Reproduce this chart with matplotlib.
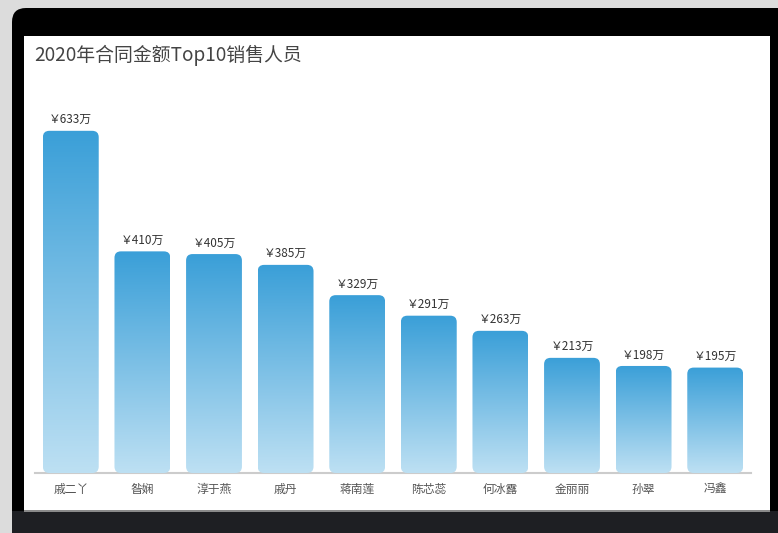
import matplotlib

matplotlib.use("Agg")

import matplotlib.pyplot as plt
import numpy as np
from matplotlib.patches import FancyBboxPatch, Rectangle

plt.rcParams["font.family"] = ["Noto Sans CJK SC", "DejaVu Sans"]

# data
names = ["戚二丫", "昝娴", "淳于燕", "戚丹", "蒋南莲", "陈芯蕊", "何冰露", "金丽丽", "孙翠", "冯鑫"]
amounts = [633, 410, 405, 385, 329, 291, 263, 213, 198, 195]
title = "2020年合同金额Top10销售人员"

W, H = 778, 533
fig = plt.figure(figsize=(W / 100, H / 100), dpi=100)
fig.patch.set_facecolor("#dcdcdc")


def px_rect(x0, y0, x1, y1, **kw):
    # rectangle in pixel coords (origin top-left)
    return Rectangle((x0 / W, 1 - y1 / H), (x1 - x0) / W, (y1 - y0) / H,
                     transform=fig.transFigure, zorder=-10, **kw)


frame = FancyBboxPatch((12 / W, 0), (W - 12) / W + 0.05, (H - 8) / H,
                       boxstyle="round,pad=0,rounding_size=0.018",
                       transform=fig.transFigure, fc="#000000", ec="none",
                       mutation_aspect=W / H, zorder=-11)
fig.patches.append(frame)
fig.patches.append(px_rect(12, 511, W, H, fc="#1e1f23", ec="none"))
fig.patches.append(px_rect(24, 36, 770, 510, fc="white", ec="none"))
fig.patches.append(px_rect(24, 510, 770, 512, fc="#8a8a8a", ec="none"))

fig.text(34 / W, 1 - 55 / H, title, fontsize=13.6, color="#444444",
         ha="left", va="center")

left, right, bottom, top = 35, 751, 473, 100
ax = fig.add_axes([left / W, 1 - bottom / H, (right - left) / W, (bottom - top) / H])
ax.set_facecolor("none")
ymax = 690
ax.set_xlim(-0.5, len(names) - 0.5)
ax.set_ylim(0, ymax)

# aspect so rounded corners look round in pixels
x_per_px = len(names) / (right - left)
y_per_px = ymax / (bottom - top)
aspect = y_per_px / x_per_px

grad = np.linspace(0, 1, 256).reshape(-1, 1)
cmap = matplotlib.colors.LinearSegmentedColormap.from_list(
    "bar", ["#bde0f3", "#3a9fd8"])
bw = 0.78
for i, v in enumerate(amounts):
    patch = FancyBboxPatch((i - bw / 2, 0), bw, v,
                           boxstyle="round,pad=0,rounding_size=0.09",
                           mutation_aspect=aspect, fc="none", ec="none")
    ax.add_patch(patch)
    im = ax.imshow(grad, cmap=cmap, origin="lower", aspect="auto",
                   extent=(i - bw / 2, i + bw / 2, 0, v), zorder=2)
    im.set_clip_path(patch)
    ax.text(i, v + 11 * y_per_px, f"￥{v}万", ha="center", va="center",
            fontsize=8.5, color="#333333")

ax.set_xlim(-0.5, len(names) - 0.5)
ax.set_ylim(0, ymax)
ax.set_xticks(range(len(names)))
ax.set_xticklabels(names, fontsize=8.5, color="#555555")
ax.tick_params(axis="x", length=0, pad=7)
ax.set_yticks([])
for s in ("top", "right", "left"):
    ax.spines[s].set_visible(False)
ax.spines["bottom"].set_color("#cccccc")
ax.spines["bottom"].set_linewidth(1.5)
ax.spines["bottom"].set_zorder(1)

fig.savefig("out.png", dpi=100)
